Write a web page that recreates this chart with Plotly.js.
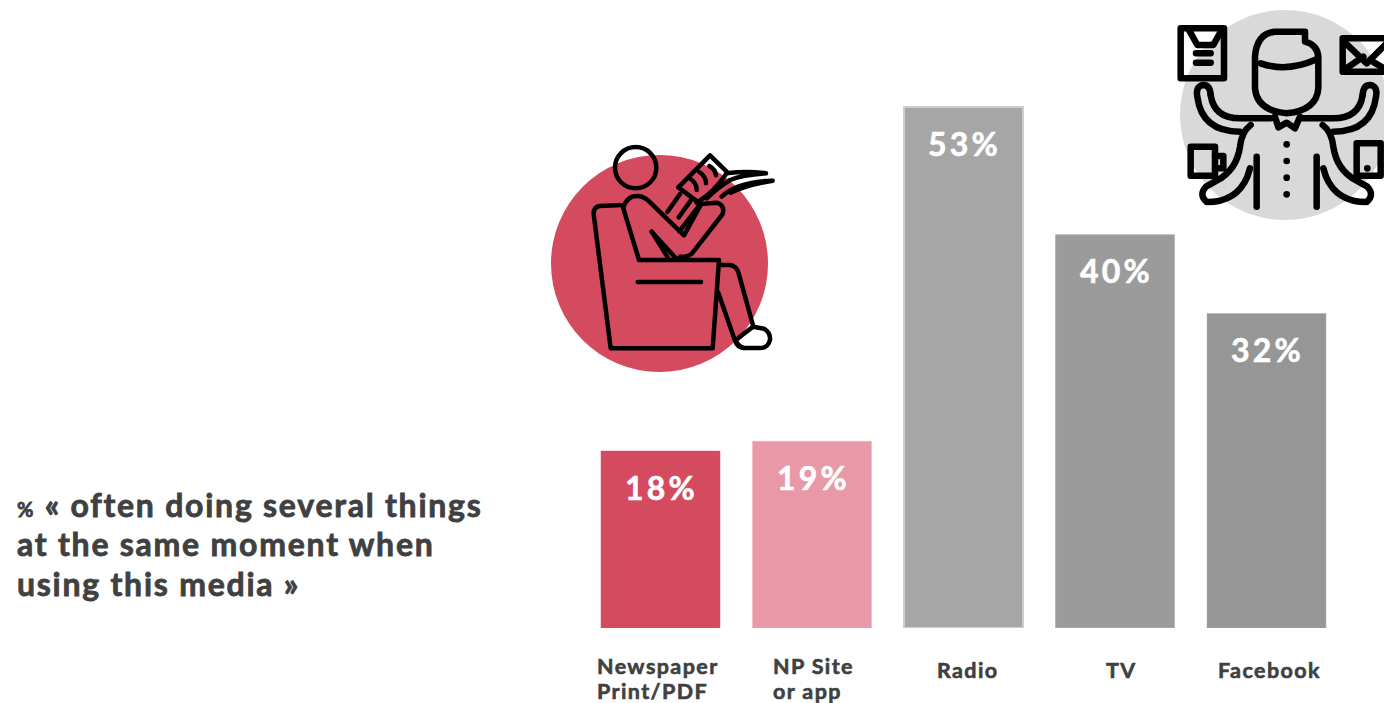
<!DOCTYPE html>
<html>
<head>
<meta charset="utf-8">
<script src="https://cdn.plot.ly/plotly-3.0.1.min.js"></script>
<style>
html,body{margin:0;padding:0;background:#fff;overflow:hidden}
#chart{width:1384px;height:703px}
/* icon strokes have soft ends and corners */
.shapelayer path{stroke-linecap:round;stroke-linejoin:round}
</style>
</head>
<body>
<div id="chart"></div>
<script>
// Share of users often multitasking, per media
const media = ['Newspaper Print/PDF', 'NP Site or app', 'Radio', 'TV', 'Facebook'];
const shares = [18, 19, 53, 40, 32];
const barColors = ['#d44a5f', '#e898a7', '#a6a6a6', '#9b9b9b', '#969696'];
const barEdges = ['#d44a5f', '#eeb0bb', '#cdcdcd', '#b5b5b5', '#a8a8a8'];
const barEdgeWidths = [0.5, 0.5, 2, 1, 0.5];
const axisLabels = [['Newspaper', 'Print/PDF'], ['NP Site', 'or app'], ['Radio'], ['TV'], ['Facebook']];
const labelOffsets = [-65.5, -41, -29, -11, -51];
const captionLines = ['% « often doing several things', 'at the same moment when', 'using this media »'];

const W = 1384, H = 703;
const baseY = 628, pxPerPoint = 9.83;
const textFamily = 'Lato, "Open Sans", sans-serif';
const textColor = '#404040';
// wide, heavy lettering: tracking plus a hairline outline in the text colour
const heavy = (text, px, color, outline) =>
  `<span style="letter-spacing:${px}px;stroke:${color};stroke-width:${outline}px">${text}</span>`;

// Reader in an armchair: drawn in a local 3x grid, see the x3/y3 axes
const reader = {xref: 'x3', yref: 'y3'};
const readerStrokes = [
  'M245 226 Q240 224 232 226 L178 228 Q160 232 161 252 L212 655 L518 655 L537 390 L297 390 L250 235',
  'M293 456 L483 456',
  'M250 232 Q262 196 295 198 Q312 200 325 212 L432 316 L482 225',
  'M482 222 L530 218 Q555 225 548 252 L458 368 Q445 382 420 380',
  'M335 305 L385 385', 'M335 305 L408 385',
  'M382 246 L420 192', 'M418 304 L478 226', 'M416 262 L452 212',
  'M415 172 L510 76 L560 125',
  'M415 172 L468 212',
  'M450 146 Q470 158 470 180', 'M478 126 Q498 140 498 160', 'M508 108 Q526 118 528 136',
  'M470 218 Q520 190 560 130 Q620 122 678 130 Q610 134 570 150 Q530 175 500 205',
  'M545 200 Q590 155 698 152 Q620 165 572 188',
  'M537 405 L570 405 Q590 408 596 430 L640 590',
  'M535 488 L585 632 Q592 654 612 654'
];
const readerFoot = 'M640 590 L672 596 Q692 608 690 630 Q684 654 660 654 L612 654 Q590 646 588 630 Q612 610 640 590 Z';

// Multitasking figure: same local grid idea on the x4/y4 axes
const figureStrokes = [
  'M62 85 L192 85 L192 235 L62 235 Z',
  'M88 92 L112 135 L160 135 L184 92',
  'M108 160 L152 160', 'M108 188 L152 188',
  'M548 115 L680 115 M548 215 L680 215 M548 115 L548 215',
  'M552 125 L620 190 L680 130', 'M552 210 L610 170', 'M630 180 L680 210',
  'M285 170 Q290 100 345 95 L435 95 L435 125 Q475 135 475 175 L475 265 Q470 332 380 340 Q290 332 285 265 Z',
  'M302 190 Q380 218 470 178',
  'M345 350 L355 382 L380 368 L405 385 L420 350',
  'M152 285 Q150 255 130 255 Q106 258 112 290 Q125 395 240 395',
  'M152 285 Q162 355 240 355 L332 355',
  'M608 285 Q610 255 630 255 Q654 258 648 290 Q635 395 520 395',
  'M608 285 Q598 355 520 355 L428 355',
  'M272 375 Q245 395 240 440 Q230 510 170 542 L138 560 Q115 585 140 606 Q230 606 262 530 L270 505',
  'M488 375 Q515 395 520 440 Q530 510 590 542 L622 560 Q645 585 620 606 Q530 606 498 530 L490 505',
  'M290 470 L290 620', 'M470 470 L470 620',
  'M110 440 L165 440 L165 527 L92 527 L92 440 Z', 'M165 468 L190 468 L190 505 L165 505',
  'M590 430 L662 430 L662 527 L590 527 Z'
];
const figureDots = [[380, 433], [380, 483], [380, 533], [380, 583], [622, 505]];

const shapes = [
  {type: 'circle', xref: 'x2', yref: 'y2', x0: 551, x1: 768, y0: 155, y1: 372, fillcolor: '#d44a5f', line: {width: 0}, layer: 'below'},
  {type: 'circle', xref: 'x2', yref: 'y2', x0: 1180, x1: 1390, y0: 10, y1: 220, fillcolor: '#d9d9d9', line: {width: 0}, layer: 'below'},
  {type: 'circle', ...reader, x0: 225, x1: 349, y0: 51, y1: 175, line: {color: '#000', width: 4.5}},
  {type: 'path', ...reader, path: readerFoot, fillcolor: '#fff', line: {color: '#000', width: 4.5}},
  ...readerStrokes.map(path => ({type: 'path', ...reader, path, line: {color: '#000', width: 4.5}})),
  ...figureStrokes.map(path => ({type: 'path', xref: 'x4', yref: 'y4', path, line: {color: '#000', width: 6.5}})),
  ...figureDots.map(([x, y]) => ({type: 'circle', xref: 'x4', yref: 'y4', x0: x - 10, x1: x + 10, y0: y - 10, y1: y + 10, fillcolor: '#000', line: {width: 0}}))
];

const annotations = [
  // percentage inside the head of each bar
  ...media.map((m, i) => ({
    x: m, y: shares[i], xref: 'x', yref: 'y', yshift: -36, xshift: 1, showarrow: false,
    text: heavy(shares[i] + '%', 3.2, '#fff', 0.6), font: {family: textFamily, size: 32, weight: 700, color: '#fff'}
  })),
  // category captions under the bars, one left-aligned annotation per line
  ...media.flatMap((m, i) => axisLabels[i].map((line, j) => ({
    x: m, y: axisLabels[i].length > 1 ? 666 + j * 25 : 670, xref: 'x', yref: 'y2',
    xanchor: 'left', xshift: labelOffsets[i], showarrow: false,
    text: heavy(line, 1.4, textColor, 0.6),
    font: {family: textFamily, size: 21.5, weight: 700, color: textColor}
  }))),
  // left-hand statement
  ...captionLines.map((line, i) => ({
    x: 15, y: 504 + i * 39.5, xref: 'x2', yref: 'y2', xanchor: 'left', showarrow: false,
    text: heavy(i === 0 ? line.replace('%', '<span style="font-size:20px">%</span>') : line, 1.75, textColor, 0.8),
    font: {family: textFamily, size: 32, weight: 700, color: textColor}
  }))
];

const hidden = {visible: false, fixedrange: true, domain: [0, 1]};
const layout = {
  width: W, height: H,
  margin: {l: 0, r: 0, t: 0, b: 0},
  paper_bgcolor: '#fff', plot_bgcolor: 'rgba(0,0,0,0)',
  showlegend: false, bargap: 0.215,
  xaxis: {type: 'category', categoryorder: 'array', categoryarray: media, visible: false, fixedrange: true,
          domain: [584.75 / W, 1342.25 / W]},
  yaxis: {range: [0, baseY / pxPerPoint], visible: false, fixedrange: true, domain: [(H - baseY) / H, 1]},
  // page axes, in pixels
  xaxis2: {...hidden, range: [0, W], anchor: 'y2'},
  yaxis2: {...hidden, range: [H, 0], anchor: 'x2'},
  // local grids of the two icons
  xaxis3: {...hidden, range: [-1620, (W - 540) * 3], anchor: 'y3'},
  yaxis3: {...hidden, range: [(H - 130) * 3, -390], anchor: 'x3'},
  xaxis4: {...hidden, range: [-3480, (W - 1160) * 3], anchor: 'y4'},
  yaxis4: {...hidden, range: [H * 3, 0], anchor: 'x4'},
  shapes, annotations
};

const traces = [
  {type: 'bar', x: media, y: shares, hoverinfo: 'skip',
   marker: {color: barColors, line: {color: barEdges, width: barEdgeWidths}}},
  {type: 'scatter', x: [], y: [], xaxis: 'x2', yaxis: 'y2'},
  {type: 'scatter', x: [], y: [], xaxis: 'x3', yaxis: 'y3'},
  {type: 'scatter', x: [], y: [], xaxis: 'x4', yaxis: 'y4'}
];

Plotly.newPlot('chart', traces, layout, {staticPlot: true, displayModeBar: false});
</script>
</body>
</html>
